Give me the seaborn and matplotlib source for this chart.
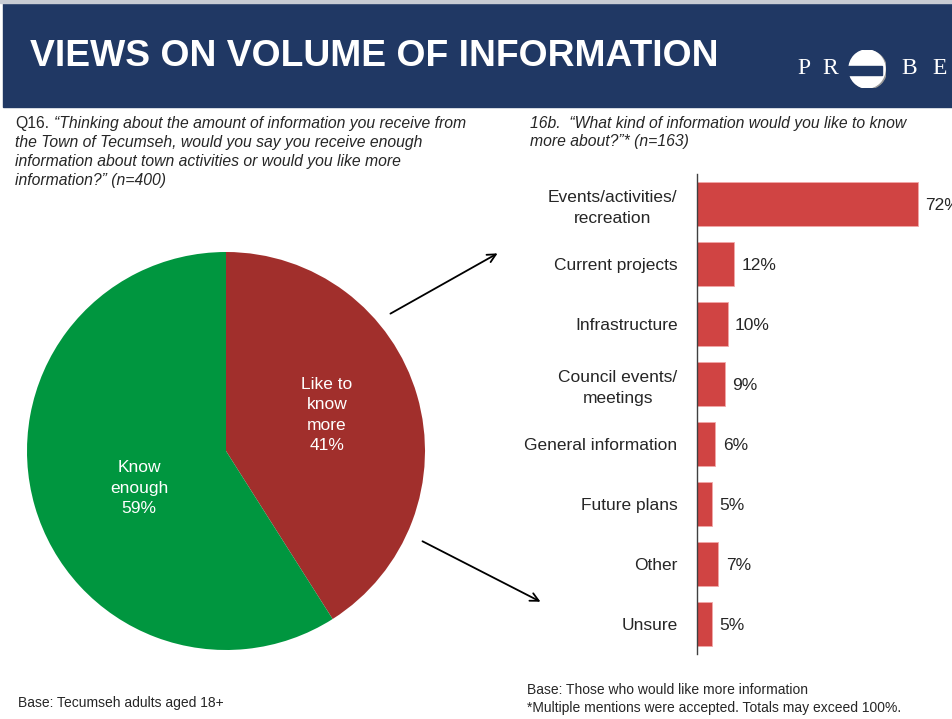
import matplotlib
matplotlib.use("Agg")
import matplotlib.pyplot as plt
import matplotlib.patches as mpatches
import numpy as np
import pandas as pd
import seaborn as sns

# pie data
pie_labels = ["Like to\nknow\nmore\n41%", "Know\nenough\n59%"]
pie_values = [41, 59]
pie_colors = ["#A12F2C", "#00963F"]

# bar data
categories = ["Events/activities/\nrecreation", "Current projects", "Infrastructure",
              "Council events/\nmeetings", "General information", "Future plans",
              "Other", "Unsure"]
pcts = [72, 12, 10, 9, 6, 5, 7, 5]

q16_lines = ["\u201cThinking about the amount of information you receive from",
             "the Town of Tecumseh, would you say you receive enough",
             "information about town activities or would you like more",
             "information?\u201d (n=400)"]

sns.set_style("white")
plt.rcParams['font.family'] = ['Liberation Sans', 'DejaVu Sans']

W, H = 952, 719
fig = plt.figure(figsize=(W / 100, H / 100), dpi=100)

def fx(x):
    return x / W

def fy(y):
    return 1 - y / H

# header banner
fig.patches.append(mpatches.Rectangle((fx(3), fy(107)), fx(952 - 3), (104) / H,
                                      transform=fig.transFigure, color="#203864", zorder=-2))
fig.patches.append(mpatches.Rectangle((0, fy(3)), 1, 3 / H,
                                      transform=fig.transFigure, color="#C8CCD4", zorder=-2))
fig.text(fx(30), fy(57), "VIEWS ON VOLUME OF INFORMATION", color="white",
         fontsize=26.8, fontweight="bold", va="center", ha="left")

# logo
for letter, x in [("P", 797), ("R", 822), ("B", 901), ("E", 932)]:
    fig.text(fx(x), fy(68), letter, color="white", fontsize=17,
             family="Liberation Serif", va="center", ha="left")
logo = fig.add_axes([fx(848), fy(88), fx(38), 38 / H], zorder=5)
logo.set_xlim(-1, 1)
logo.set_ylim(-1, 1)
logo.set_aspect("equal")
logo.axis("off")
logo.add_patch(mpatches.Ellipse((0.08, -0.04), 1.9, 2.0, color="#9A9A9A"))
logo.add_patch(mpatches.Ellipse((0, 0), 1.9, 2.0, color="white"))
logo.add_patch(mpatches.Rectangle((-1, -0.3), 1.8, 0.48, color="#203864"))

# question texts
fig.text(fx(15), fy(116), "Q16.", fontsize=11.3, va="top", ha="left")
for i, line in enumerate(q16_lines):
    x0 = 54 if i == 0 else 15
    fig.text(fx(x0), fy(116 + 19 * i), line, fontsize=11.3, style="italic",
             va="top", ha="left")
fig.text(fx(530), fy(116), "16b.  \u201cWhat kind of information would you like to know",
         fontsize=11.3, style="italic", va="top", ha="left")
fig.text(fx(530), fy(134), "more about?\u201d* (n=163)",
         fontsize=11.3, style="italic", va="top", ha="left")

# pie
pax = fig.add_axes([fx(27), fy(650), fx(398), 398 / H])
wedges, texts = pax.pie(pie_values, colors=pie_colors, startangle=90, counterclock=False,
                        labels=pie_labels, labeldistance=None,
                        wedgeprops=dict(linewidth=0))
pax.set_xlim(-1.0, 1.0)
pax.set_ylim(-1.0, 1.0)
pax.set_aspect("equal")
label_pos = [(327, 415), (139, 488)]
for lab, (x, y) in zip(pie_labels, label_pos):
    fig.text(fx(x), fy(y), lab, color="white", fontsize=12.5, ha="center", va="center",
             linespacing=1.45)

# arrows
fig.patches.append(mpatches.FancyArrowPatch((fx(388), fy(315)), (fx(500), fy(252)),
                                            transform=fig.transFigure, arrowstyle="->,head_length=6,head_width=3",
                                            color="black", lw=1.3))
fig.patches.append(mpatches.FancyArrowPatch((fx(420), fy(540)), (fx(543), fy(603)),
                                            transform=fig.transFigure, arrowstyle="->,head_length=6,head_width=3",
                                            color="black", lw=1.3))

# bars
df = pd.DataFrame({"category": categories, "pct": pcts})
bax = fig.add_axes([fx(697), fy(654), 80 * 3.07 / W, 480 / H])
sns.barplot(data=df, x="pct", y="category", ax=bax, color="#D04443", width=0.73,
            edgecolor="#F2A8A8", linewidth=0.6, saturation=1)
bax.set_xlim(0, 80)
bax.set_ylim(len(categories) - 0.5, -0.5)
bax.set_xlabel("")
bax.set_ylabel("")
bax.set_xticks([])
bax.set_yticks(np.arange(len(categories)))
bax.set_yticklabels(categories, fontsize=12.5, ha="right", multialignment="center",
                    linespacing=1.45)
bax.tick_params(axis="y", length=0, pad=14)
bax.set_yticks(np.arange(-0.5, len(categories), 1), minor=True)
bax.tick_params(axis="y", which="minor", length=5, width=1, color="#404040", direction="out")
for s in ["top", "right", "bottom"]:
    bax.spines[s].set_visible(False)
bax.spines["left"].set_color("#404040")
bax.spines["left"].set_linewidth(1)
for i, v in enumerate(pcts):
    bax.text(v + 2.4, i + 0.03, f"{v}%", fontsize=12.5, va="center", ha="left", clip_on=False)

# footers
fig.text(fx(18), fy(703), "Base: Tecumseh adults aged 18+", fontsize=10, va="center", ha="left")
fig.text(fx(527), fy(690), "Base: Those who would like more information", fontsize=10,
         va="center", ha="left")
fig.text(fx(527), fy(708), "*Multiple mentions were accepted. Totals may exceed 100%.",
         fontsize=10, va="center", ha="left")

fig.savefig("out.png", dpi=100)
